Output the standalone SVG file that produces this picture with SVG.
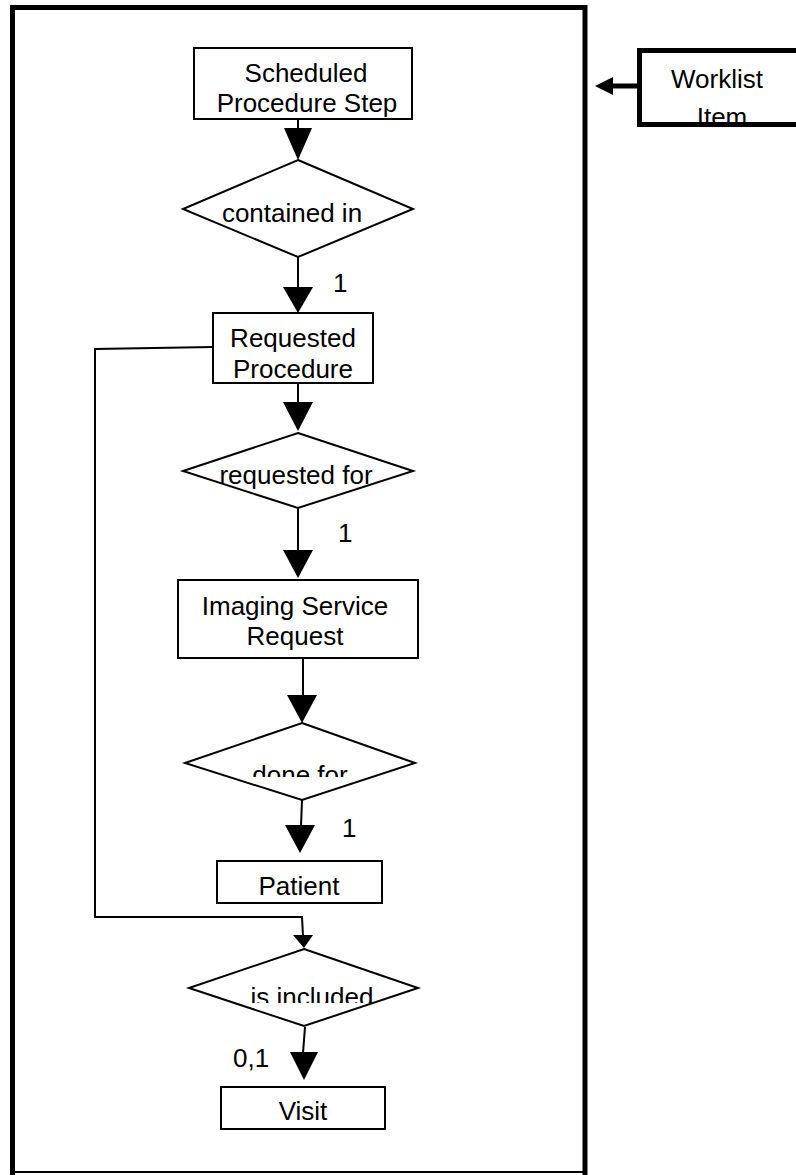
<svg xmlns="http://www.w3.org/2000/svg" width="796" height="1175" viewBox="0 0 796 1175">
<style>
.box{fill:#fff;stroke:#000;stroke-width:2}
.thick{fill:none;stroke:#000;stroke-width:5}
.ln{fill:none;stroke:#000;stroke-width:2}
.hd{fill:#000;stroke:none}
text{font-family:"Liberation Sans",Arial,sans-serif;font-size:26px;fill:#000}
.c{text-anchor:middle}
</style>
<defs>
<clipPath id="clipDone"><rect x="180" y="740" width="240" height="37"/></clipPath>
<clipPath id="clipIncl"><rect x="180" y="960" width="240" height="43"/></clipPath>
</defs>
<rect width="796" height="1175" fill="#fff"/>
<g id="frame">
<path class="thick" d="M12.5,1175 V7.5 H585 V1175"/>
<line x1="12" y1="1172" x2="587" y2="1172" stroke="#000" stroke-width="2"/>
</g>
<g id="connectors">
<line class="ln" x1="298" y1="119" x2="298" y2="129"/>
<polygon class="hd" points="284,128 312,128 298,160"/>
<line class="ln" x1="298" y1="257" x2="298" y2="288"/>
<polygon class="hd" points="283,287 313,287 298,313"/>
<line class="ln" x1="298" y1="383" x2="298" y2="403"/>
<polygon class="hd" points="283,402 313,402 298,431"/>
<line class="ln" x1="298" y1="508" x2="298" y2="551"/>
<polygon class="hd" points="283,550 313,550 298,578"/>
<line class="ln" x1="303" y1="658" x2="303" y2="696"/>
<polygon class="hd" points="287,695 317,695 302,723"/>
<line class="ln" x1="302" y1="800" x2="301" y2="826"/>
<polygon class="hd" points="285,825 315,825 300,853"/>
<polyline class="ln" points="213,347 95,349 95,917 302,917 303,936"/>
<polygon class="hd" points="293,935 313,935 304,948"/>
<line class="ln" x1="305" y1="1027" x2="303" y2="1053"/>
<polygon class="hd" points="290,1052 318,1052 304,1080"/>
<line x1="639" y1="86" x2="611" y2="86" stroke="#000" stroke-width="5"/>
<polygon class="hd" points="613,77 613,95 595,86"/>
</g>
<g id="sps">
<rect class="box" x="194" y="48" width="218" height="71"/>
<text class="c" x="306" y="82">Scheduled</text>
<text class="c" x="307" y="112">Procedure Step</text>
</g>
<g id="contained">
<polygon class="box" points="298,160 413,209 298,257 183,209"/>
<text class="c" x="292" y="222">contained in</text>
</g>
<text x="333" y="292">1</text>
<g id="rp">
<rect class="box" x="213" y="313" width="160" height="70"/>
<text class="c" x="293" y="347">Requested</text>
<text class="c" x="293" y="378">Procedure</text>
</g>
<g id="reqfor">
<polygon class="box" points="298,433 413,471 298,508 183,471"/>
<text class="c" x="296" y="484">requested for</text>
</g>
<text x="338" y="542">1</text>
<g id="isr">
<rect class="box" x="178" y="580" width="240" height="78"/>
<text class="c" x="295" y="615">Imaging Service</text>
<text class="c" x="295" y="645">Request</text>
</g>
<g id="donefor">
<polygon class="box" points="302,723 415,763 302,800 185,763"/>
<text class="c" x="300" y="784" clip-path="url(#clipDone)">done for</text>
</g>
<text x="342" y="837">1</text>
<g id="patient">
<rect class="box" x="217" y="861" width="165" height="42"/>
<text class="c" x="299" y="895">Patient</text>
</g>
<g id="included">
<polygon class="box" points="304,949 418,988 304,1026 189,988"/>
<text class="c" x="312" y="1006" clip-path="url(#clipIncl)">is included</text>
</g>
<text x="233" y="1067">0,1</text>
<g id="visit">
<rect class="box" x="221" y="1087" width="164" height="42"/>
<text class="c" x="303" y="1120">Visit</text>
</g>
<g id="worklist">
<rect x="639.5" y="50.5" width="170" height="74" fill="#fff" stroke="#000" stroke-width="5"/>
<text class="c" x="717" y="88">Worklist</text>
<text class="c" x="722" y="126">Item</text>
</g>
</svg>
